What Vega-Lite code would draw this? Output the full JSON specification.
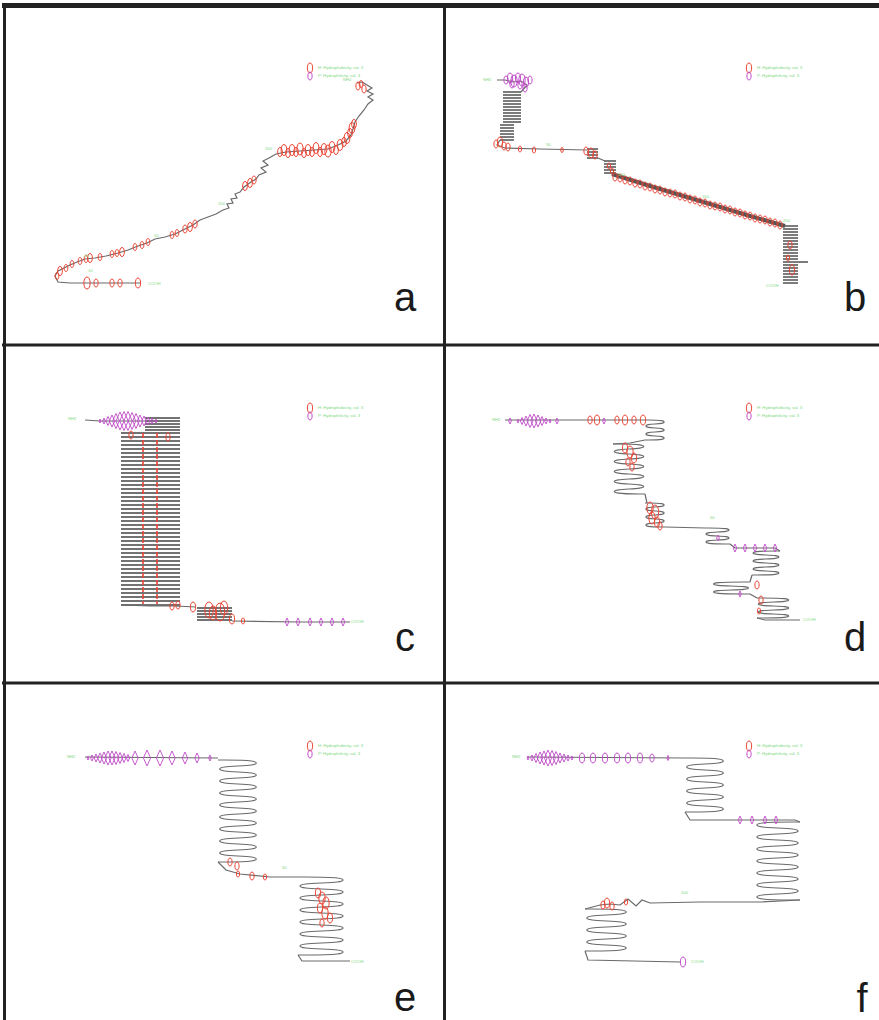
{
"$schema": "https://vega.github.io/schema/vega-lite/v6.json",
"padding": {"left": 2, "top": 3, "right": 0, "bottom": 0},
"background": "white",
"config": {"view": {"stroke": null}, "concat": {"spacing": 0}},
"data": {"values": [
{"p":"a","k":"border","w":"thin","x":4.5,"x2":4.5,"y":3,"y2":345},
{"p":"a","k":"border","w":"thin","x":444.5,"x2":444.5,"y":3,"y2":345},
{"p":"a","k":"border","w":"thin","x":2,"x2":444,"y":345,"y2":345},
{"p":"a","k":"border","w":"thick","x":2,"x2":444,"y":5.5,"y2":5.5},
{"p":"b","k":"border","w":"thin","x":444.5,"x2":444.5,"y":3,"y2":345},
{"p":"b","k":"border","w":"thin","x":444,"x2":879,"y":345,"y2":345},
{"p":"b","k":"border","w":"thick","x":444,"x2":879,"y":5.5,"y2":5.5},
{"p":"c","k":"border","w":"thin","x":4.5,"x2":4.5,"y":345,"y2":683},
{"p":"c","k":"border","w":"thin","x":444.5,"x2":444.5,"y":345,"y2":683},
{"p":"c","k":"border","w":"thin","x":2,"x2":444,"y":345,"y2":345},
{"p":"c","k":"border","w":"thin","x":2,"x2":444,"y":683,"y2":683},
{"p":"d","k":"border","w":"thin","x":444.5,"x2":444.5,"y":345,"y2":683},
{"p":"d","k":"border","w":"thin","x":444,"x2":879,"y":345,"y2":345},
{"p":"d","k":"border","w":"thin","x":444,"x2":879,"y":683,"y2":683},
{"p":"e","k":"border","w":"thin","x":4.5,"x2":4.5,"y":683,"y2":1020},
{"p":"e","k":"border","w":"thin","x":444.5,"x2":444.5,"y":683,"y2":1020},
{"p":"e","k":"border","w":"thin","x":2,"x2":444,"y":683,"y2":683},
{"p":"f","k":"border","w":"thin","x":444.5,"x2":444.5,"y":683,"y2":1020},
{"p":"f","k":"border","w":"thin","x":444,"x2":879,"y":683,"y2":683},
{"p":"a","k":"letter","t":"a","x":405,"y":311},
{"p":"b","k":"letter","t":"b","x":855,"y":311},
{"p":"c","k":"letter","t":"c","x":405,"y":651},
{"p":"d","k":"letter","t":"d","x":855,"y":651},
{"p":"e","k":"letter","t":"e","x":405,"y":1011},
{"p":"f","k":"letter","t":"f","x":862,"y":1012},

{"p":"a","k":"lab","t":"H: Hydrophobicity, val. 3","x":318,"y":68},
{"p":"a","k":"lab","t":"P: Hydrophilicity, val. 3","x":318,"y":76},
{"p":"a","k":"red","x":310,"y":68,"v":10},
{"p":"a","k":"pe","x":310,"y":76,"v":8},
{"p":"a","k":"lab","t":"NH2","x":343,"y":80},
{"p":"a","k":"lab","t":"COOH","x":148,"y":284},
{"p":"a","k":"lab","t":"150","x":265,"y":149},
{"p":"a","k":"lab","t":"100","x":218,"y":204},
{"p":"a","k":"lab","t":"50","x":154,"y":236},
{"p":"a","k":"lab","t":"20","x":84,"y":256},
{"p":"a","k":"lab","t":"10","x":88,"y":271},
{"p":"a","k":"path","s":1,"x":357,"y":83},{"p":"a","k":"path","s":1,"x":362,"y":82},{"p":"a","k":"path","s":1,"x":367,"y":85},{"p":"a","k":"path","s":1,"x":372,"y":88},{"p":"a","k":"path","s":1,"x":367,"y":91},{"p":"a","k":"path","s":1,"x":373,"y":94},{"p":"a","k":"path","s":1,"x":368,"y":97},{"p":"a","k":"path","s":1,"x":373,"y":100},{"p":"a","k":"path","s":1,"x":368,"y":104},{"p":"a","k":"path","s":1,"x":364,"y":110},{"p":"a","k":"path","s":1,"x":359,"y":116},{"p":"a","k":"path","s":1,"x":355,"y":122},{"p":"a","k":"path","s":1,"x":353,"y":129},{"p":"a","k":"path","s":1,"x":351,"y":135},{"p":"a","k":"path","s":1,"x":346,"y":141},{"p":"a","k":"path","s":1,"x":338,"y":145},{"p":"a","k":"path","s":1,"x":328,"y":149},{"p":"a","k":"path","s":1,"x":314,"y":150},{"p":"a","k":"path","s":1,"x":300,"y":151},{"p":"a","k":"path","s":1,"x":286,"y":152},{"p":"a","k":"path","s":1,"x":276,"y":154},{"p":"a","k":"path","s":1,"x":269,"y":158},{"p":"a","k":"path","s":1,"x":263,"y":161},{"p":"a","k":"path","s":1,"x":268,"y":165},{"p":"a","k":"path","s":1,"x":261,"y":168},{"p":"a","k":"path","s":1,"x":266,"y":172},{"p":"a","k":"path","s":1,"x":259,"y":175},{"p":"a","k":"path","s":1,"x":256,"y":179},{"p":"a","k":"path","s":1,"x":251,"y":182},{"p":"a","k":"path","s":1,"x":244,"y":187},{"p":"a","k":"path","s":1,"x":240,"y":192},{"p":"a","k":"path","s":1,"x":235,"y":194},{"p":"a","k":"path","s":1,"x":237,"y":198},{"p":"a","k":"path","s":1,"x":231,"y":199},{"p":"a","k":"path","s":1,"x":233,"y":203},{"p":"a","k":"path","s":1,"x":227,"y":204},{"p":"a","k":"path","s":1,"x":229,"y":208},{"p":"a","k":"path","s":1,"x":223,"y":210},{"p":"a","k":"path","s":1,"x":216,"y":214},{"p":"a","k":"path","s":1,"x":208,"y":217},{"p":"a","k":"path","s":1,"x":200,"y":220},{"p":"a","k":"path","s":1,"x":193,"y":225},{"p":"a","k":"path","s":1,"x":185,"y":229},{"p":"a","k":"path","s":1,"x":175,"y":234},{"p":"a","k":"path","s":1,"x":165,"y":237},{"p":"a","k":"path","s":1,"x":155,"y":239},{"p":"a","k":"path","s":1,"x":147,"y":243},{"p":"a","k":"path","s":1,"x":138,"y":246},{"p":"a","k":"path","s":1,"x":128,"y":250},{"p":"a","k":"path","s":1,"x":118,"y":253},{"p":"a","k":"path","s":1,"x":106,"y":256},{"p":"a","k":"path","s":1,"x":95,"y":258},{"p":"a","k":"path","s":1,"x":85,"y":259},{"p":"a","k":"path","s":1,"x":77,"y":262},{"p":"a","k":"path","s":1,"x":70,"y":265},{"p":"a","k":"path","s":1,"x":64,"y":268},{"p":"a","k":"path","s":1,"x":58,"y":271},{"p":"a","k":"path","s":1,"x":55,"y":276},{"p":"a","k":"path","s":1,"x":58,"y":282},{"p":"a","k":"path","s":1,"x":70,"y":283},{"p":"a","k":"path","s":1,"x":100,"y":283},{"p":"a","k":"path","s":1,"x":141,"y":283},
{"p":"a","k":"red","x":358,"y":86,"v":8},{"p":"a","k":"red","x":361,"y":84,"v":7},{"p":"a","k":"red","x":364,"y":89,"v":8},
{"p":"a","k":"red","x":280,"y":152,"v":9},{"p":"a","k":"red","x":284,"y":150,"v":11},{"p":"a","k":"red","x":288,"y":153,"v":9},{"p":"a","k":"red","x":292,"y":150,"v":11},{"p":"a","k":"red","x":296,"y":152,"v":9},{"p":"a","k":"red","x":300,"y":149,"v":12},{"p":"a","k":"red","x":304,"y":153,"v":9},{"p":"a","k":"red","x":308,"y":150,"v":11},{"p":"a","k":"red","x":312,"y":152,"v":9},{"p":"a","k":"red","x":316,"y":148,"v":11},{"p":"a","k":"red","x":320,"y":152,"v":9},{"p":"a","k":"red","x":324,"y":149,"v":11},{"p":"a","k":"red","x":328,"y":151,"v":12},{"p":"a","k":"red","x":332,"y":147,"v":11},{"p":"a","k":"red","x":336,"y":150,"v":9},{"p":"a","k":"red","x":340,"y":145,"v":11},{"p":"a","k":"red","x":344,"y":142,"v":9},{"p":"a","k":"red","x":347,"y":138,"v":11},{"p":"a","k":"red","x":350,"y":133,"v":9},{"p":"a","k":"red","x":352,"y":128,"v":11},{"p":"a","k":"red","x":354,"y":124,"v":9},
{"p":"a","k":"red","x":254,"y":180,"v":8},{"p":"a","k":"red","x":250,"y":183,"v":9},{"p":"a","k":"red","x":245,"y":186,"v":9},
{"p":"a","k":"red","x":195,"y":224,"v":8},{"p":"a","k":"red","x":190,"y":227,"v":9},{"p":"a","k":"red","x":185,"y":229,"v":8},{"p":"a","k":"red","x":177,"y":233,"v":7},{"p":"a","k":"red","x":172,"y":235,"v":7},
{"p":"a","k":"red","x":148,"y":242,"v":7},{"p":"a","k":"red","x":142,"y":245,"v":7},{"p":"a","k":"red","x":135,"y":247,"v":7},
{"p":"a","k":"red","x":122,"y":252,"v":9},{"p":"a","k":"red","x":117,"y":253,"v":7},{"p":"a","k":"red","x":112,"y":254,"v":7},{"p":"a","k":"red","x":100,"y":257,"v":7},
{"p":"a","k":"red","x":90,"y":258,"v":9},{"p":"a","k":"red","x":86,"y":259,"v":7},{"p":"a","k":"red","x":80,"y":261,"v":7},
{"p":"a","k":"red","x":72,"y":264,"v":7},{"p":"a","k":"red","x":66,"y":268,"v":7},{"p":"a","k":"red","x":60,"y":271,"v":9},{"p":"a","k":"red","x":57,"y":276,"v":7},
{"p":"a","k":"red","x":87,"y":283,"v":12},{"p":"a","k":"red","x":96,"y":283,"v":8},{"p":"a","k":"red","x":112,"y":283,"v":8},{"p":"a","k":"red","x":120,"y":283,"v":8},{"p":"a","k":"red","x":138,"y":283,"v":10},

{"p":"b","k":"lab","t":"H: Hydrophobicity, val. 3","x":757,"y":68},
{"p":"b","k":"lab","t":"P: Hydrophilicity, val. 3","x":757,"y":76},
{"p":"b","k":"red","x":749,"y":68,"v":10},
{"p":"b","k":"pe","x":749,"y":76,"v":8},
{"p":"b","k":"lab","t":"NH2","x":483,"y":80},
{"p":"b","k":"lab","t":"COOH","x":766,"y":286},
{"p":"b","k":"lab","t":"50","x":546,"y":145},
{"p":"b","k":"lab","t":"100","x":618,"y":175},
{"p":"b","k":"lab","t":"150","x":702,"y":197},
{"p":"b","k":"lab","t":"200","x":783,"y":221},
{"p":"b","k":"path","s":1,"x":497,"y":80},{"p":"b","k":"path","s":1,"x":505,"y":80},{"p":"b","k":"path","s":1,"x":513,"y":82},{"p":"b","k":"path","s":1,"x":521,"y":81},{"p":"b","k":"path","s":1,"x":527,"y":85},{"p":"b","k":"path","s":1,"x":521,"y":92},
{"p":"b","k":"path","s":2,"x":500,"y":140},{"p":"b","k":"path","s":2,"x":497,"y":145},{"p":"b","k":"path","s":2,"x":505,"y":148},{"p":"b","k":"path","s":2,"x":540,"y":149},{"p":"b","k":"path","s":2,"x":587,"y":150},
{"p":"b","k":"path","s":3,"x":598,"y":158},{"p":"b","k":"path","s":3,"x":605,"y":161},
{"p":"b","k":"band","s":4,"x":612,"y":174},{"p":"b","k":"band","s":4,"x":650,"y":186},{"p":"b","k":"band","s":4,"x":700,"y":201},{"p":"b","k":"band","s":4,"x":750,"y":216},{"p":"b","k":"band","s":4,"x":785,"y":226},
{"p":"b","k":"stripe","x":503,"x2":521,"y":92},{"p":"b","k":"stripe","x":503,"x2":521,"y":95},{"p":"b","k":"stripe","x":503,"x2":521,"y":98},{"p":"b","k":"stripe","x":503,"x2":521,"y":101},{"p":"b","k":"stripe","x":503,"x2":521,"y":104},{"p":"b","k":"stripe","x":503,"x2":521,"y":107},{"p":"b","k":"stripe","x":503,"x2":521,"y":110},{"p":"b","k":"stripe","x":503,"x2":521,"y":113},{"p":"b","k":"stripe","x":503,"x2":521,"y":116},{"p":"b","k":"stripe","x":503,"x2":521,"y":119},{"p":"b","k":"stripe","x":503,"x2":521,"y":122},
{"p":"b","k":"stripe","x":500,"x2":514,"y":125},{"p":"b","k":"stripe","x":500,"x2":514,"y":128},{"p":"b","k":"stripe","x":500,"x2":514,"y":131},{"p":"b","k":"stripe","x":500,"x2":514,"y":134},{"p":"b","k":"stripe","x":500,"x2":514,"y":137},{"p":"b","k":"stripe","x":500,"x2":514,"y":140},
{"p":"b","k":"stripe","x":587,"x2":598,"y":149},{"p":"b","k":"stripe","x":587,"x2":598,"y":152},{"p":"b","k":"stripe","x":587,"x2":598,"y":155},{"p":"b","k":"stripe","x":587,"x2":598,"y":158},
{"p":"b","k":"stripe","x":604,"x2":616,"y":161},{"p":"b","k":"stripe","x":604,"x2":616,"y":164},{"p":"b","k":"stripe","x":604,"x2":616,"y":167},{"p":"b","k":"stripe","x":604,"x2":616,"y":170},{"p":"b","k":"stripe","x":604,"x2":616,"y":173},
{"p":"b","k":"stripe","x":783,"x2":798,"y":226},{"p":"b","k":"stripe","x":783,"x2":798,"y":229},{"p":"b","k":"stripe","x":783,"x2":798,"y":232},{"p":"b","k":"stripe","x":783,"x2":798,"y":235},{"p":"b","k":"stripe","x":783,"x2":798,"y":238},{"p":"b","k":"stripe","x":783,"x2":798,"y":241},{"p":"b","k":"stripe","x":783,"x2":798,"y":244},{"p":"b","k":"stripe","x":783,"x2":798,"y":247},{"p":"b","k":"stripe","x":783,"x2":798,"y":250},{"p":"b","k":"stripe","x":783,"x2":798,"y":253},{"p":"b","k":"stripe","x":783,"x2":798,"y":256},{"p":"b","k":"stripe","x":783,"x2":798,"y":259},{"p":"b","k":"stripe","x":783,"x2":808,"y":262},{"p":"b","k":"stripe","x":783,"x2":798,"y":265},{"p":"b","k":"stripe","x":783,"x2":798,"y":268},{"p":"b","k":"stripe","x":783,"x2":798,"y":271},{"p":"b","k":"stripe","x":783,"x2":798,"y":274},{"p":"b","k":"stripe","x":783,"x2":798,"y":277},{"p":"b","k":"stripe","x":783,"x2":798,"y":280},{"p":"b","k":"stripe","x":783,"x2":798,"y":283},
{"p":"b","k":"pe","x":506,"y":80,"v":8},{"p":"b","k":"pe","x":510,"y":78,"v":10},{"p":"b","k":"pe","x":514,"y":81,"v":12},{"p":"b","k":"pe","x":518,"y":78,"v":10},{"p":"b","k":"pe","x":522,"y":80,"v":12},{"p":"b","k":"pe","x":526,"y":82,"v":10},{"p":"b","k":"pe","x":512,"y":84,"v":8},{"p":"b","k":"pe","x":520,"y":85,"v":8},{"p":"b","k":"pe","x":525,"y":88,"v":8},{"p":"b","k":"pe","x":530,"y":80,"v":8},
{"p":"b","k":"red","x":496,"y":144,"v":8},{"p":"b","k":"red","x":500,"y":142,"v":10},{"p":"b","k":"red","x":504,"y":146,"v":8},{"p":"b","k":"red","x":508,"y":147,"v":8},{"p":"b","k":"red","x":520,"y":149,"v":6},{"p":"b","k":"red","x":534,"y":150,"v":6},{"p":"b","k":"red","x":562,"y":150,"v":5},{"p":"b","k":"red","x":586,"y":151,"v":8},{"p":"b","k":"red","x":591,"y":153,"v":10},{"p":"b","k":"red","x":595,"y":155,"v":8},{"p":"b","k":"red","x":609,"y":166,"v":6},{"p":"b","k":"red","x":612,"y":171,"v":6},
{"p":"b","k":"red","x":615,"y":177,"v":8},{"p":"b","k":"red","x":620,"y":178,"v":8},{"p":"b","k":"red","x":625,"y":180,"v":8},{"p":"b","k":"red","x":630,"y":181,"v":8},{"p":"b","k":"red","x":635,"y":183,"v":8},{"p":"b","k":"red","x":640,"y":184,"v":8},{"p":"b","k":"red","x":645,"y":186,"v":8},{"p":"b","k":"red","x":650,"y":187,"v":8},{"p":"b","k":"red","x":655,"y":189,"v":8},{"p":"b","k":"red","x":660,"y":190,"v":8},{"p":"b","k":"red","x":665,"y":192,"v":8},{"p":"b","k":"red","x":670,"y":193,"v":8},{"p":"b","k":"red","x":675,"y":194,"v":8},{"p":"b","k":"red","x":680,"y":196,"v":8},{"p":"b","k":"red","x":685,"y":197,"v":8},{"p":"b","k":"red","x":690,"y":199,"v":8},{"p":"b","k":"red","x":695,"y":200,"v":8},{"p":"b","k":"red","x":700,"y":202,"v":8},{"p":"b","k":"red","x":705,"y":203,"v":8},{"p":"b","k":"red","x":710,"y":205,"v":8},{"p":"b","k":"red","x":715,"y":206,"v":8},{"p":"b","k":"red","x":720,"y":207,"v":8},{"p":"b","k":"red","x":725,"y":209,"v":8},{"p":"b","k":"red","x":730,"y":210,"v":8},{"p":"b","k":"red","x":735,"y":212,"v":8},{"p":"b","k":"red","x":740,"y":213,"v":8},{"p":"b","k":"red","x":745,"y":215,"v":8},{"p":"b","k":"red","x":750,"y":216,"v":8},{"p":"b","k":"red","x":755,"y":218,"v":8},{"p":"b","k":"red","x":760,"y":219,"v":8},{"p":"b","k":"red","x":765,"y":220,"v":8},{"p":"b","k":"red","x":770,"y":222,"v":8},{"p":"b","k":"red","x":775,"y":223,"v":8},{"p":"b","k":"red","x":780,"y":225,"v":8},
{"p":"b","k":"red","x":790,"y":245,"v":8},{"p":"b","k":"red","x":788,"y":258,"v":6},{"p":"b","k":"red","x":792,"y":270,"v":10},

{"p":"c","k":"lab","t":"H: Hydrophobicity, val. 3","x":318,"y":408},
{"p":"c","k":"lab","t":"P: Hydrophilicity, val. 3","x":318,"y":416},
{"p":"c","k":"red","x":310,"y":408,"v":10},
{"p":"c","k":"pe","x":310,"y":416,"v":8},
{"p":"c","k":"lab","t":"NH2","x":68,"y":419},
{"p":"c","k":"lab","t":"COOH","x":351,"y":622},
{"p":"c","k":"path","s":1,"x":85,"y":420},{"p":"c","k":"path","s":1,"x":100,"y":421},{"p":"c","k":"path","s":1,"x":145,"y":421},
{"p":"c","k":"path","s":2,"x":121,"y":605},{"p":"c","k":"path","s":2,"x":150,"y":606},{"p":"c","k":"path","s":2,"x":175,"y":606},{"p":"c","k":"path","s":2,"x":196,"y":607},
{"p":"c","k":"path","s":3,"x":232,"y":621},{"p":"c","k":"path","s":3,"x":300,"y":622},{"p":"c","k":"path","s":3,"x":350,"y":622},
{"p":"c","k":"stripe","x":145,"x2":180,"y":418},{"p":"c","k":"stripe","x":145,"x2":180,"y":421},{"p":"c","k":"stripe","x":145,"x2":180,"y":424},{"p":"c","k":"stripe","x":145,"x2":180,"y":427},{"p":"c","k":"stripe","x":145,"x2":180,"y":430},
{"p":"c","k":"stripe","x":121,"x2":180,"y":433},{"p":"c","k":"stripe","x":121,"x2":180,"y":437},{"p":"c","k":"stripe","x":121,"x2":180,"y":441},{"p":"c","k":"stripe","x":121,"x2":180,"y":445},{"p":"c","k":"stripe","x":121,"x2":180,"y":449},{"p":"c","k":"stripe","x":121,"x2":180,"y":453},{"p":"c","k":"stripe","x":121,"x2":180,"y":457},{"p":"c","k":"stripe","x":121,"x2":180,"y":461},{"p":"c","k":"stripe","x":121,"x2":180,"y":465},{"p":"c","k":"stripe","x":121,"x2":180,"y":469},{"p":"c","k":"stripe","x":121,"x2":180,"y":473},{"p":"c","k":"stripe","x":121,"x2":180,"y":477},{"p":"c","k":"stripe","x":121,"x2":180,"y":481},{"p":"c","k":"stripe","x":121,"x2":180,"y":485},{"p":"c","k":"stripe","x":121,"x2":180,"y":489},{"p":"c","k":"stripe","x":121,"x2":180,"y":493},{"p":"c","k":"stripe","x":121,"x2":180,"y":497},{"p":"c","k":"stripe","x":121,"x2":180,"y":501},{"p":"c","k":"stripe","x":121,"x2":180,"y":505},{"p":"c","k":"stripe","x":121,"x2":180,"y":509},{"p":"c","k":"stripe","x":121,"x2":180,"y":513},{"p":"c","k":"stripe","x":121,"x2":180,"y":517},{"p":"c","k":"stripe","x":121,"x2":180,"y":521},{"p":"c","k":"stripe","x":121,"x2":180,"y":525},{"p":"c","k":"stripe","x":121,"x2":180,"y":529},{"p":"c","k":"stripe","x":121,"x2":180,"y":533},{"p":"c","k":"stripe","x":121,"x2":180,"y":537},{"p":"c","k":"stripe","x":121,"x2":180,"y":541},{"p":"c","k":"stripe","x":121,"x2":180,"y":545},{"p":"c","k":"stripe","x":121,"x2":180,"y":549},{"p":"c","k":"stripe","x":121,"x2":180,"y":553},{"p":"c","k":"stripe","x":121,"x2":180,"y":557},{"p":"c","k":"stripe","x":121,"x2":180,"y":561},{"p":"c","k":"stripe","x":121,"x2":180,"y":565},{"p":"c","k":"stripe","x":121,"x2":180,"y":569},{"p":"c","k":"stripe","x":121,"x2":180,"y":573},{"p":"c","k":"stripe","x":121,"x2":180,"y":577},{"p":"c","k":"stripe","x":121,"x2":180,"y":581},{"p":"c","k":"stripe","x":121,"x2":180,"y":585},{"p":"c","k":"stripe","x":121,"x2":180,"y":589},{"p":"c","k":"stripe","x":121,"x2":180,"y":593},{"p":"c","k":"stripe","x":121,"x2":180,"y":597},{"p":"c","k":"stripe","x":121,"x2":180,"y":601},{"p":"c","k":"stripe","x":121,"x2":180,"y":605},
{"p":"c","k":"stripe","x":197,"x2":232,"y":608},{"p":"c","k":"stripe","x":197,"x2":232,"y":611},{"p":"c","k":"stripe","x":197,"x2":232,"y":614},{"p":"c","k":"stripe","x":197,"x2":232,"y":617},{"p":"c","k":"stripe","x":197,"x2":232,"y":620},
{"p":"c","k":"redline","x":143,"y":433,"y2":604},{"p":"c","k":"redline","x":157,"y":433,"y2":604},
{"p":"c","k":"red","x":131,"y":435,"v":8},{"p":"c","k":"red","x":168,"y":437,"v":8},{"p":"c","k":"red","x":172,"y":606,"v":8},{"p":"c","k":"red","x":178,"y":605,"v":8},{"p":"c","k":"red","x":193,"y":607,"v":10},{"p":"c","k":"red","x":209,"y":610,"v":16},{"p":"c","k":"red","x":213,"y":613,"v":14},{"p":"c","k":"red","x":220,"y":612,"v":18},{"p":"c","k":"red","x":224,"y":608,"v":14},{"p":"c","k":"red","x":232,"y":619,"v":10},{"p":"c","k":"red","x":243,"y":621,"v":6},
{"p":"c","k":"pd","x":100,"y":421,"v":4},{"p":"c","k":"pd","x":104,"y":421,"v":6},{"p":"c","k":"pd","x":108,"y":421,"v":9},{"p":"c","k":"pd","x":112,"y":421,"v":12},{"p":"c","k":"pd","x":116,"y":421,"v":15},{"p":"c","k":"pd","x":120,"y":421,"v":18},{"p":"c","k":"pd","x":124,"y":421,"v":19},{"p":"c","k":"pd","x":128,"y":421,"v":19},{"p":"c","k":"pd","x":132,"y":421,"v":17},{"p":"c","k":"pd","x":136,"y":421,"v":15},{"p":"c","k":"pd","x":140,"y":421,"v":12},{"p":"c","k":"pd","x":144,"y":421,"v":10},{"p":"c","k":"pd","x":148,"y":421,"v":8},{"p":"c","k":"pd","x":152,"y":421,"v":6},{"p":"c","k":"pd","x":156,"y":421,"v":4},
{"p":"c","k":"pd","x":287,"y":622,"v":8},{"p":"c","k":"pd","x":298,"y":622,"v":8},{"p":"c","k":"pd","x":310,"y":622,"v":8},{"p":"c","k":"pd","x":321,"y":622,"v":8},{"p":"c","k":"pd","x":332,"y":622,"v":8},{"p":"c","k":"pd","x":343,"y":622,"v":8},

{"p":"d","k":"lab","t":"H: Hydrophobicity, val. 3","x":757,"y":408},
{"p":"d","k":"lab","t":"P: Hydrophilicity, val. 3","x":757,"y":416},
{"p":"d","k":"red","x":749,"y":408,"v":10},
{"p":"d","k":"pe","x":749,"y":416,"v":8},
{"p":"d","k":"lab","t":"NH2","x":492,"y":420},
{"p":"d","k":"lab","t":"COOH","x":803,"y":620},
{"p":"d","k":"lab","t":"50","x":710,"y":518},
{"p":"d","k":"path","s":1,"x":505,"y":420},{"p":"d","k":"path","s":1,"x":560,"y":420},{"p":"d","k":"path","s":1,"x":600,"y":420},{"p":"d","k":"path","s":1,"x":645,"y":420},
{"p":"d","k":"loop","s":11,"x":645,"y":420},{"p":"d","k":"loop","s":11,"x":665,"y":420},{"p":"d","k":"loop","s":11,"x":665,"y":424},{"p":"d","k":"loop","s":11,"x":645,"y":424},{"p":"d","k":"loop","s":11,"x":645,"y":428},{"p":"d","k":"loop","s":11,"x":665,"y":428},{"p":"d","k":"loop","s":11,"x":665,"y":432},{"p":"d","k":"loop","s":11,"x":645,"y":432},{"p":"d","k":"loop","s":11,"x":645,"y":436},{"p":"d","k":"loop","s":11,"x":665,"y":436},{"p":"d","k":"loop","s":11,"x":665,"y":440},{"p":"d","k":"loop","s":11,"x":645,"y":440},
{"p":"d","k":"path","s":2,"x":645,"y":440},{"p":"d","k":"path","s":2,"x":630,"y":443},{"p":"d","k":"path","s":2,"x":613,"y":444},
{"p":"d","k":"loop","s":12,"x":613,"y":444},{"p":"d","k":"loop","s":12,"x":645,"y":444},{"p":"d","k":"loop","s":12,"x":645,"y":449},{"p":"d","k":"loop","s":12,"x":613,"y":449},{"p":"d","k":"loop","s":12,"x":613,"y":454},{"p":"d","k":"loop","s":12,"x":645,"y":454},{"p":"d","k":"loop","s":12,"x":645,"y":459},{"p":"d","k":"loop","s":12,"x":613,"y":459},{"p":"d","k":"loop","s":12,"x":613,"y":464},{"p":"d","k":"loop","s":12,"x":645,"y":464},{"p":"d","k":"loop","s":12,"x":645,"y":469},{"p":"d","k":"loop","s":12,"x":613,"y":469},{"p":"d","k":"loop","s":12,"x":613,"y":474},{"p":"d","k":"loop","s":12,"x":645,"y":474},{"p":"d","k":"loop","s":12,"x":645,"y":479},{"p":"d","k":"loop","s":12,"x":613,"y":479},{"p":"d","k":"loop","s":12,"x":613,"y":484},{"p":"d","k":"loop","s":12,"x":645,"y":484},{"p":"d","k":"loop","s":12,"x":645,"y":489},{"p":"d","k":"loop","s":12,"x":613,"y":489},{"p":"d","k":"loop","s":12,"x":613,"y":494},{"p":"d","k":"loop","s":12,"x":645,"y":494},
{"p":"d","k":"path","s":3,"x":645,"y":494},{"p":"d","k":"path","s":3,"x":647,"y":503},
{"p":"d","k":"loop","s":13,"x":645,"y":503},{"p":"d","k":"loop","s":13,"x":665,"y":503},{"p":"d","k":"loop","s":13,"x":665,"y":507},{"p":"d","k":"loop","s":13,"x":645,"y":507},{"p":"d","k":"loop","s":13,"x":645,"y":511},{"p":"d","k":"loop","s":13,"x":665,"y":511},{"p":"d","k":"loop","s":13,"x":665,"y":515},{"p":"d","k":"loop","s":13,"x":645,"y":515},{"p":"d","k":"loop","s":13,"x":645,"y":519},{"p":"d","k":"loop","s":13,"x":665,"y":519},{"p":"d","k":"loop","s":13,"x":665,"y":523},{"p":"d","k":"loop","s":13,"x":645,"y":523},{"p":"d","k":"loop","s":13,"x":645,"y":527},{"p":"d","k":"loop","s":13,"x":665,"y":527},
{"p":"d","k":"path","s":4,"x":665,"y":527},{"p":"d","k":"path","s":4,"x":705,"y":528},
{"p":"d","k":"loop","s":14,"x":705,"y":528},{"p":"d","k":"loop","s":14,"x":730,"y":528},{"p":"d","k":"loop","s":14,"x":730,"y":532},{"p":"d","k":"loop","s":14,"x":705,"y":532},{"p":"d","k":"loop","s":14,"x":705,"y":536},{"p":"d","k":"loop","s":14,"x":730,"y":536},{"p":"d","k":"loop","s":14,"x":730,"y":540},{"p":"d","k":"loop","s":14,"x":705,"y":540},{"p":"d","k":"loop","s":14,"x":705,"y":544},{"p":"d","k":"loop","s":14,"x":730,"y":544},
{"p":"d","k":"path","s":5,"x":730,"y":544},{"p":"d","k":"path","s":5,"x":735,"y":548},{"p":"d","k":"path","s":5,"x":775,"y":548},{"p":"d","k":"path","s":5,"x":780,"y":551},
{"p":"d","k":"loop","s":15,"x":780,"y":551},{"p":"d","k":"loop","s":15,"x":752,"y":551},{"p":"d","k":"loop","s":15,"x":752,"y":555},{"p":"d","k":"loop","s":15,"x":780,"y":555},{"p":"d","k":"loop","s":15,"x":780,"y":559},{"p":"d","k":"loop","s":15,"x":752,"y":559},{"p":"d","k":"loop","s":15,"x":752,"y":563},{"p":"d","k":"loop","s":15,"x":780,"y":563},{"p":"d","k":"loop","s":15,"x":780,"y":567},{"p":"d","k":"loop","s":15,"x":752,"y":567},{"p":"d","k":"loop","s":15,"x":752,"y":571},{"p":"d","k":"loop","s":15,"x":780,"y":571},{"p":"d","k":"loop","s":15,"x":780,"y":575},{"p":"d","k":"loop","s":15,"x":752,"y":575},
{"p":"d","k":"path","s":6,"x":752,"y":575},{"p":"d","k":"path","s":6,"x":750,"y":582},
{"p":"d","k":"loop","s":16,"x":750,"y":582},{"p":"d","k":"loop","s":16,"x":712,"y":582},{"p":"d","k":"loop","s":16,"x":712,"y":586},{"p":"d","k":"loop","s":16,"x":750,"y":586},{"p":"d","k":"loop","s":16,"x":750,"y":590},{"p":"d","k":"loop","s":16,"x":712,"y":590},{"p":"d","k":"loop","s":16,"x":712,"y":594},{"p":"d","k":"loop","s":16,"x":750,"y":594},
{"p":"d","k":"path","s":7,"x":750,"y":594},{"p":"d","k":"path","s":7,"x":757,"y":598},
{"p":"d","k":"loop","s":17,"x":757,"y":598},{"p":"d","k":"loop","s":17,"x":790,"y":598},{"p":"d","k":"loop","s":17,"x":790,"y":602},{"p":"d","k":"loop","s":17,"x":757,"y":602},{"p":"d","k":"loop","s":17,"x":757,"y":606},{"p":"d","k":"loop","s":17,"x":790,"y":606},{"p":"d","k":"loop","s":17,"x":790,"y":610},{"p":"d","k":"loop","s":17,"x":757,"y":610},{"p":"d","k":"loop","s":17,"x":757,"y":614},{"p":"d","k":"loop","s":17,"x":790,"y":614},{"p":"d","k":"loop","s":17,"x":790,"y":618},{"p":"d","k":"loop","s":17,"x":757,"y":618},
{"p":"d","k":"path","s":8,"x":757,"y":618},{"p":"d","k":"path","s":8,"x":765,"y":620},{"p":"d","k":"path","s":8,"x":800,"y":620},
{"p":"d","k":"red","x":590,"y":420,"v":8},{"p":"d","k":"red","x":597,"y":420,"v":10},{"p":"d","k":"red","x":617,"y":420,"v":8},{"p":"d","k":"red","x":625,"y":420,"v":10},{"p":"d","k":"red","x":634,"y":420,"v":8},{"p":"d","k":"red","x":643,"y":420,"v":10},{"p":"d","k":"red","x":625,"y":448,"v":10},{"p":"d","k":"red","x":630,"y":452,"v":12},{"p":"d","k":"red","x":634,"y":458,"v":10},{"p":"d","k":"red","x":628,"y":462,"v":8},{"p":"d","k":"red","x":632,"y":467,"v":8},{"p":"d","k":"red","x":650,"y":508,"v":12},{"p":"d","k":"red","x":655,"y":512,"v":14},{"p":"d","k":"red","x":652,"y":518,"v":12},{"p":"d","k":"red","x":657,"y":522,"v":10},{"p":"d","k":"red","x":660,"y":526,"v":8},{"p":"d","k":"red","x":757,"y":585,"v":8},{"p":"d","k":"red","x":761,"y":600,"v":8},{"p":"d","k":"red","x":759,"y":611,"v":6},
{"p":"d","k":"pd","x":518,"y":421,"v":4},{"p":"d","k":"pd","x":522,"y":421,"v":7},{"p":"d","k":"pd","x":526,"y":421,"v":10},{"p":"d","k":"pd","x":530,"y":421,"v":13},{"p":"d","k":"pd","x":534,"y":421,"v":14},{"p":"d","k":"pd","x":538,"y":421,"v":12},{"p":"d","k":"pd","x":542,"y":421,"v":9},{"p":"d","k":"pd","x":546,"y":421,"v":6},{"p":"d","k":"pd","x":550,"y":421,"v":4},
{"p":"d","k":"pd","x":510,"y":421,"v":6},{"p":"d","k":"pd","x":557,"y":421,"v":6},{"p":"d","k":"pd","x":604,"y":421,"v":6},
{"p":"d","k":"pd","x":735,"y":548,"v":8},{"p":"d","k":"pd","x":745,"y":548,"v":8},{"p":"d","k":"pd","x":755,"y":548,"v":8},{"p":"d","k":"pd","x":765,"y":548,"v":8},{"p":"d","k":"pd","x":775,"y":548,"v":8},{"p":"d","k":"pd","x":740,"y":594,"v":6},{"p":"d","k":"pd","x":718,"y":538,"v":6},

{"p":"e","k":"lab","t":"H: Hydrophobicity, val. 3","x":318,"y":746},
{"p":"e","k":"lab","t":"P: Hydrophilicity, val. 3","x":318,"y":754},
{"p":"e","k":"red","x":310,"y":746,"v":10},
{"p":"e","k":"pe","x":310,"y":754,"v":8},
{"p":"e","k":"lab","t":"NH2","x":67,"y":757},
{"p":"e","k":"lab","t":"COOH","x":351,"y":962},
{"p":"e","k":"lab","t":"50","x":282,"y":868},
{"p":"e","k":"path","s":1,"x":85,"y":757},{"p":"e","k":"path","s":1,"x":218,"y":758},
{"p":"e","k":"loop","s":11,"x":218,"y":760},{"p":"e","k":"loop","s":11,"x":258,"y":760},{"p":"e","k":"loop","s":11,"x":258,"y":766},{"p":"e","k":"loop","s":11,"x":218,"y":766},{"p":"e","k":"loop","s":11,"x":218,"y":772},{"p":"e","k":"loop","s":11,"x":258,"y":772},{"p":"e","k":"loop","s":11,"x":258,"y":778},{"p":"e","k":"loop","s":11,"x":218,"y":778},{"p":"e","k":"loop","s":11,"x":218,"y":784},{"p":"e","k":"loop","s":11,"x":258,"y":784},{"p":"e","k":"loop","s":11,"x":258,"y":790},{"p":"e","k":"loop","s":11,"x":218,"y":790},{"p":"e","k":"loop","s":11,"x":218,"y":796},{"p":"e","k":"loop","s":11,"x":258,"y":796},{"p":"e","k":"loop","s":11,"x":258,"y":802},{"p":"e","k":"loop","s":11,"x":218,"y":802},{"p":"e","k":"loop","s":11,"x":218,"y":808},{"p":"e","k":"loop","s":11,"x":258,"y":808},{"p":"e","k":"loop","s":11,"x":258,"y":814},{"p":"e","k":"loop","s":11,"x":218,"y":814},{"p":"e","k":"loop","s":11,"x":218,"y":820},{"p":"e","k":"loop","s":11,"x":258,"y":820},{"p":"e","k":"loop","s":11,"x":258,"y":826},{"p":"e","k":"loop","s":11,"x":218,"y":826},{"p":"e","k":"loop","s":11,"x":218,"y":832},{"p":"e","k":"loop","s":11,"x":258,"y":832},{"p":"e","k":"loop","s":11,"x":258,"y":838},{"p":"e","k":"loop","s":11,"x":218,"y":838},{"p":"e","k":"loop","s":11,"x":218,"y":844},{"p":"e","k":"loop","s":11,"x":258,"y":844},{"p":"e","k":"loop","s":11,"x":258,"y":850},{"p":"e","k":"loop","s":11,"x":218,"y":850},{"p":"e","k":"loop","s":11,"x":218,"y":856},{"p":"e","k":"loop","s":11,"x":258,"y":856},{"p":"e","k":"loop","s":11,"x":258,"y":862},{"p":"e","k":"loop","s":11,"x":218,"y":862},
{"p":"e","k":"path","s":2,"x":218,"y":862},{"p":"e","k":"path","s":2,"x":226,"y":870},{"p":"e","k":"path","s":2,"x":240,"y":874},{"p":"e","k":"path","s":2,"x":270,"y":877},{"p":"e","k":"path","s":2,"x":298,"y":877},
{"p":"e","k":"loop","s":12,"x":298,"y":877},{"p":"e","k":"loop","s":12,"x":345,"y":877},{"p":"e","k":"loop","s":12,"x":345,"y":883},{"p":"e","k":"loop","s":12,"x":298,"y":883},{"p":"e","k":"loop","s":12,"x":298,"y":889},{"p":"e","k":"loop","s":12,"x":345,"y":889},{"p":"e","k":"loop","s":12,"x":345,"y":895},{"p":"e","k":"loop","s":12,"x":298,"y":895},{"p":"e","k":"loop","s":12,"x":298,"y":901},{"p":"e","k":"loop","s":12,"x":345,"y":901},{"p":"e","k":"loop","s":12,"x":345,"y":907},{"p":"e","k":"loop","s":12,"x":298,"y":907},{"p":"e","k":"loop","s":12,"x":298,"y":913},{"p":"e","k":"loop","s":12,"x":345,"y":913},{"p":"e","k":"loop","s":12,"x":345,"y":919},{"p":"e","k":"loop","s":12,"x":298,"y":919},{"p":"e","k":"loop","s":12,"x":298,"y":925},{"p":"e","k":"loop","s":12,"x":345,"y":925},{"p":"e","k":"loop","s":12,"x":345,"y":931},{"p":"e","k":"loop","s":12,"x":298,"y":931},{"p":"e","k":"loop","s":12,"x":298,"y":937},{"p":"e","k":"loop","s":12,"x":345,"y":937},{"p":"e","k":"loop","s":12,"x":345,"y":943},{"p":"e","k":"loop","s":12,"x":298,"y":943},{"p":"e","k":"loop","s":12,"x":298,"y":949},{"p":"e","k":"loop","s":12,"x":345,"y":949},{"p":"e","k":"loop","s":12,"x":345,"y":955},{"p":"e","k":"loop","s":12,"x":298,"y":955},
{"p":"e","k":"path","s":3,"x":298,"y":955},{"p":"e","k":"path","s":3,"x":302,"y":961},{"p":"e","k":"path","s":3,"x":350,"y":961},
{"p":"e","k":"red","x":230,"y":862,"v":8},{"p":"e","k":"red","x":237,"y":866,"v":8},{"p":"e","k":"red","x":238,"y":874,"v":6},{"p":"e","k":"red","x":252,"y":876,"v":8},{"p":"e","k":"red","x":265,"y":877,"v":6},{"p":"e","k":"red","x":318,"y":893,"v":10},{"p":"e","k":"red","x":322,"y":898,"v":12},{"p":"e","k":"red","x":326,"y":903,"v":12},{"p":"e","k":"red","x":320,"y":908,"v":10},{"p":"e","k":"red","x":325,"y":913,"v":12},{"p":"e","k":"red","x":330,"y":918,"v":10},{"p":"e","k":"red","x":322,"y":923,"v":8},
{"p":"e","k":"pd","x":88,"y":758,"v":4},{"p":"e","k":"pd","x":92,"y":758,"v":6},{"p":"e","k":"pd","x":96,"y":758,"v":8},{"p":"e","k":"pd","x":100,"y":758,"v":10},{"p":"e","k":"pd","x":104,"y":758,"v":12},{"p":"e","k":"pd","x":108,"y":758,"v":14},{"p":"e","k":"pd","x":112,"y":758,"v":14},{"p":"e","k":"pd","x":116,"y":758,"v":13},{"p":"e","k":"pd","x":120,"y":758,"v":11},{"p":"e","k":"pd","x":124,"y":758,"v":9},{"p":"e","k":"pd","x":128,"y":758,"v":7},
{"p":"e","k":"pd","x":135,"y":758,"v":14},{"p":"e","k":"pd","x":147,"y":758,"v":16},{"p":"e","k":"pd","x":160,"y":758,"v":16},{"p":"e","k":"pd","x":172,"y":758,"v":14},{"p":"e","k":"pd","x":185,"y":758,"v":12},{"p":"e","k":"pd","x":197,"y":758,"v":10},{"p":"e","k":"pd","x":210,"y":758,"v":6},

{"p":"f","k":"lab","t":"H: Hydrophobicity, val. 3","x":757,"y":746},
{"p":"f","k":"lab","t":"P: Hydrophilicity, val. 3","x":757,"y":754},
{"p":"f","k":"red","x":749,"y":746,"v":10},
{"p":"f","k":"pe","x":749,"y":754,"v":8},
{"p":"f","k":"lab","t":"NH2","x":512,"y":757},
{"p":"f","k":"lab","t":"COOH","x":691,"y":962},
{"p":"f","k":"lab","t":"100","x":681,"y":893},
{"p":"f","k":"path","s":1,"x":527,"y":757},{"p":"f","k":"path","s":1,"x":685,"y":758},
{"p":"f","k":"loop","s":11,"x":685,"y":758},{"p":"f","k":"loop","s":11,"x":725,"y":758},{"p":"f","k":"loop","s":11,"x":725,"y":764},{"p":"f","k":"loop","s":11,"x":685,"y":764},{"p":"f","k":"loop","s":11,"x":685,"y":770},{"p":"f","k":"loop","s":11,"x":725,"y":770},{"p":"f","k":"loop","s":11,"x":725,"y":776},{"p":"f","k":"loop","s":11,"x":685,"y":776},{"p":"f","k":"loop","s":11,"x":685,"y":782},{"p":"f","k":"loop","s":11,"x":725,"y":782},{"p":"f","k":"loop","s":11,"x":725,"y":788},{"p":"f","k":"loop","s":11,"x":685,"y":788},{"p":"f","k":"loop","s":11,"x":685,"y":794},{"p":"f","k":"loop","s":11,"x":725,"y":794},{"p":"f","k":"loop","s":11,"x":725,"y":800},{"p":"f","k":"loop","s":11,"x":685,"y":800},{"p":"f","k":"loop","s":11,"x":685,"y":806},{"p":"f","k":"loop","s":11,"x":725,"y":806},{"p":"f","k":"loop","s":11,"x":725,"y":812},{"p":"f","k":"loop","s":11,"x":685,"y":812},
{"p":"f","k":"path","s":2,"x":685,"y":812},{"p":"f","k":"path","s":2,"x":690,"y":820},{"p":"f","k":"path","s":2,"x":795,"y":820},{"p":"f","k":"path","s":2,"x":800,"y":822},
{"p":"f","k":"loop","s":12,"x":800,"y":822},{"p":"f","k":"loop","s":12,"x":755,"y":822},{"p":"f","k":"loop","s":12,"x":755,"y":828},{"p":"f","k":"loop","s":12,"x":800,"y":828},{"p":"f","k":"loop","s":12,"x":800,"y":834},{"p":"f","k":"loop","s":12,"x":755,"y":834},{"p":"f","k":"loop","s":12,"x":755,"y":840},{"p":"f","k":"loop","s":12,"x":800,"y":840},{"p":"f","k":"loop","s":12,"x":800,"y":846},{"p":"f","k":"loop","s":12,"x":755,"y":846},{"p":"f","k":"loop","s":12,"x":755,"y":852},{"p":"f","k":"loop","s":12,"x":800,"y":852},{"p":"f","k":"loop","s":12,"x":800,"y":858},{"p":"f","k":"loop","s":12,"x":755,"y":858},{"p":"f","k":"loop","s":12,"x":755,"y":864},{"p":"f","k":"loop","s":12,"x":800,"y":864},{"p":"f","k":"loop","s":12,"x":800,"y":870},{"p":"f","k":"loop","s":12,"x":755,"y":870},{"p":"f","k":"loop","s":12,"x":755,"y":876},{"p":"f","k":"loop","s":12,"x":800,"y":876},{"p":"f","k":"loop","s":12,"x":800,"y":882},{"p":"f","k":"loop","s":12,"x":755,"y":882},{"p":"f","k":"loop","s":12,"x":755,"y":888},{"p":"f","k":"loop","s":12,"x":800,"y":888},{"p":"f","k":"loop","s":12,"x":800,"y":894},{"p":"f","k":"loop","s":12,"x":755,"y":894},{"p":"f","k":"loop","s":12,"x":755,"y":900},{"p":"f","k":"loop","s":12,"x":800,"y":900},
{"p":"f","k":"path","s":3,"x":800,"y":900},{"p":"f","k":"path","s":3,"x":760,"y":902},{"p":"f","k":"path","s":3,"x":700,"y":902},{"p":"f","k":"path","s":3,"x":650,"y":903},{"p":"f","k":"path","s":3,"x":642,"y":900},{"p":"f","k":"path","s":3,"x":636,"y":906},{"p":"f","k":"path","s":3,"x":628,"y":899},{"p":"f","k":"path","s":3,"x":620,"y":905},{"p":"f","k":"path","s":3,"x":610,"y":904},{"p":"f","k":"path","s":3,"x":600,"y":905},{"p":"f","k":"path","s":3,"x":585,"y":909},
{"p":"f","k":"loop","s":13,"x":585,"y":909},{"p":"f","k":"loop","s":13,"x":628,"y":909},{"p":"f","k":"loop","s":13,"x":628,"y":915},{"p":"f","k":"loop","s":13,"x":585,"y":915},{"p":"f","k":"loop","s":13,"x":585,"y":921},{"p":"f","k":"loop","s":13,"x":628,"y":921},{"p":"f","k":"loop","s":13,"x":628,"y":927},{"p":"f","k":"loop","s":13,"x":585,"y":927},{"p":"f","k":"loop","s":13,"x":585,"y":933},{"p":"f","k":"loop","s":13,"x":628,"y":933},{"p":"f","k":"loop","s":13,"x":628,"y":939},{"p":"f","k":"loop","s":13,"x":585,"y":939},{"p":"f","k":"loop","s":13,"x":585,"y":945},{"p":"f","k":"loop","s":13,"x":628,"y":945},{"p":"f","k":"loop","s":13,"x":628,"y":951},{"p":"f","k":"loop","s":13,"x":585,"y":951},
{"p":"f","k":"path","s":4,"x":585,"y":951},{"p":"f","k":"path","s":4,"x":588,"y":960},{"p":"f","k":"path","s":4,"x":680,"y":962},
{"p":"f","k":"red","x":603,"y":905,"v":8},{"p":"f","k":"red","x":607,"y":903,"v":10},{"p":"f","k":"red","x":612,"y":906,"v":8},{"p":"f","k":"red","x":626,"y":902,"v":6},
{"p":"f","k":"pd","x":528,"y":758,"v":4},{"p":"f","k":"pd","x":532,"y":758,"v":6},{"p":"f","k":"pd","x":536,"y":758,"v":9},{"p":"f","k":"pd","x":540,"y":758,"v":12},{"p":"f","k":"pd","x":544,"y":758,"v":14},{"p":"f","k":"pd","x":548,"y":758,"v":16},{"p":"f","k":"pd","x":552,"y":758,"v":15},{"p":"f","k":"pd","x":556,"y":758,"v":13},{"p":"f","k":"pd","x":560,"y":758,"v":10},{"p":"f","k":"pd","x":564,"y":758,"v":8},{"p":"f","k":"pd","x":568,"y":758,"v":6},{"p":"f","k":"pd","x":572,"y":758,"v":4},
{"p":"f","k":"pe","x":582,"y":758,"v":10},{"p":"f","k":"pe","x":593,"y":758,"v":10},{"p":"f","k":"pe","x":605,"y":758,"v":10},{"p":"f","k":"pe","x":617,"y":758,"v":10},{"p":"f","k":"pe","x":628,"y":758,"v":10},{"p":"f","k":"pe","x":640,"y":758,"v":10},{"p":"f","k":"pe","x":652,"y":758,"v":8},{"p":"f","k":"pd","x":668,"y":758,"v":5},
{"p":"f","k":"pd","x":740,"y":820,"v":8},{"p":"f","k":"pd","x":752,"y":820,"v":8},{"p":"f","k":"pd","x":765,"y":820,"v":8},{"p":"f","k":"pd","x":776,"y":820,"v":8},
{"p":"f","k":"pe","x":683,"y":962,"v":10}
]},
"spacing": 0,
"resolve": {"scale": {"x": "independent", "y": "independent", "size": "independent"}},
"vconcat": [
{"hconcat": [
{"width": 442, "height": 342, "transform": [{"filter": "datum.p == 'a'"}],
 "encoding": {"x": {"field": "x", "type": "quantitative", "axis": null, "scale": {"domain": [2, 444], "nice": false, "zero": false}}, "y": {"field": "y", "type": "quantitative", "axis": null, "scale": {"domain": [3, 345], "nice": false, "zero": false, "reverse": true}}},
 "layer": [
  {"transform": [{"filter": "datum.k == 'path'"}], "mark": {"type": "line", "color": "#6a6a6a", "strokeWidth": 1.2}, "encoding": {"detail": {"field": "s"}, "order": {"value": null}}},
  {"transform": [{"filter": "datum.k == 'red'"}], "mark": {"type": "point", "shape": "M0,-1C0.7,-1 0.7,1 0,1C-0.7,1 -0.7,-1 0,-1Z", "filled": false, "color": "#ec4434", "strokeWidth": 1, "opacity": 1}, "encoding": {"size": {"field": "v", "type": "quantitative", "scale": {"type": "pow", "exponent": 2, "domain": [0, 20], "range": [0, 400]}, "legend": null}}},
  {"transform": [{"filter": "datum.k == 'pe'"}], "mark": {"type": "point", "shape": "M0,-1C0.7,-1 0.7,1 0,1C-0.7,1 -0.7,-1 0,-1Z", "filled": false, "color": "#c04ac8", "strokeWidth": 1, "opacity": 1}, "encoding": {"size": {"field": "v", "type": "quantitative", "scale": {"type": "pow", "exponent": 2, "domain": [0, 20], "range": [0, 400]}, "legend": null}}},
  {"transform": [{"filter": "datum.k == 'lab'"}], "mark": {"type": "text", "color": "#7ed87e", "fontSize": 4.2, "font": "Liberation Sans", "align": "left", "baseline": "middle"}, "encoding": {"text": {"field": "t"}}},
  {"transform": [{"filter": "datum.k == 'letter'"}], "mark": {"type": "text", "color": "#1a1a1a", "fontSize": 40, "font": "Liberation Sans", "align": "center", "baseline": "alphabetic"}, "encoding": {"text": {"field": "t"}}},
  {"transform": [{"filter": "datum.k == 'border'"}], "mark": {"type": "rule", "color": "#222222", "clip": true}, "encoding": {"x2": {"field": "x2"}, "y2": {"field": "y2"}, "strokeWidth": {"field": "w", "type": "nominal", "scale": {"domain": ["thin", "thick"], "range": [3, 5]}, "legend": null}}}
 ]},
{"width": 435, "height": 342, "transform": [{"filter": "datum.p == 'b'"}],
 "encoding": {"x": {"field": "x", "type": "quantitative", "axis": null, "scale": {"domain": [444, 879], "nice": false, "zero": false}}, "y": {"field": "y", "type": "quantitative", "axis": null, "scale": {"domain": [3, 345], "nice": false, "zero": false, "reverse": true}}},
 "layer": [
  {"transform": [{"filter": "datum.k == 'stripe'"}], "mark": {"type": "rule", "color": "#444444", "strokeWidth": 1.4}, "encoding": {"x2": {"field": "x2"}}},
  {"transform": [{"filter": "datum.k == 'band'"}], "mark": {"type": "line", "color": "#555555", "strokeWidth": 4}, "encoding": {"detail": {"field": "s"}, "order": {"value": null}}},
  {"transform": [{"filter": "datum.k == 'path'"}], "mark": {"type": "line", "color": "#6a6a6a", "strokeWidth": 1.2}, "encoding": {"detail": {"field": "s"}, "order": {"value": null}}},
  {"transform": [{"filter": "datum.k == 'red'"}], "mark": {"type": "point", "shape": "M0,-1C0.7,-1 0.7,1 0,1C-0.7,1 -0.7,-1 0,-1Z", "filled": false, "color": "#ec4434", "strokeWidth": 1, "opacity": 1}, "encoding": {"size": {"field": "v", "type": "quantitative", "scale": {"type": "pow", "exponent": 2, "domain": [0, 20], "range": [0, 400]}, "legend": null}}},
  {"transform": [{"filter": "datum.k == 'pe'"}], "mark": {"type": "point", "shape": "M0,-1C0.7,-1 0.7,1 0,1C-0.7,1 -0.7,-1 0,-1Z", "filled": false, "color": "#c04ac8", "strokeWidth": 1, "opacity": 1}, "encoding": {"size": {"field": "v", "type": "quantitative", "scale": {"type": "pow", "exponent": 2, "domain": [0, 20], "range": [0, 400]}, "legend": null}}},
  {"transform": [{"filter": "datum.k == 'lab'"}], "mark": {"type": "text", "color": "#7ed87e", "fontSize": 4.2, "font": "Liberation Sans", "align": "left", "baseline": "middle"}, "encoding": {"text": {"field": "t"}}},
  {"transform": [{"filter": "datum.k == 'letter'"}], "mark": {"type": "text", "color": "#1a1a1a", "fontSize": 40, "font": "Liberation Sans", "align": "center", "baseline": "alphabetic"}, "encoding": {"text": {"field": "t"}}},
  {"transform": [{"filter": "datum.k == 'border'"}], "mark": {"type": "rule", "color": "#222222", "clip": true}, "encoding": {"x2": {"field": "x2"}, "y2": {"field": "y2"}, "strokeWidth": {"field": "w", "type": "nominal", "scale": {"domain": ["thin", "thick"], "range": [3, 5]}, "legend": null}}}
 ]}
], "spacing": 0, "resolve": {"scale": {"x": "independent", "y": "independent"}}},
{"hconcat": [
{"width": 442, "height": 338, "transform": [{"filter": "datum.p == 'c'"}],
 "encoding": {"x": {"field": "x", "type": "quantitative", "axis": null, "scale": {"domain": [2, 444], "nice": false, "zero": false}}, "y": {"field": "y", "type": "quantitative", "axis": null, "scale": {"domain": [345, 683], "nice": false, "zero": false, "reverse": true}}},
 "layer": [
  {"transform": [{"filter": "datum.k == 'stripe'"}], "mark": {"type": "rule", "color": "#444444", "strokeWidth": 1.4}, "encoding": {"x2": {"field": "x2"}}},
  {"transform": [{"filter": "datum.k == 'path'"}], "mark": {"type": "line", "color": "#6a6a6a", "strokeWidth": 1.2}, "encoding": {"detail": {"field": "s"}, "order": {"value": null}}},
  {"transform": [{"filter": "datum.k == 'redline'"}], "mark": {"type": "rule", "color": "#ec4434", "strokeWidth": 1.6, "strokeDash": [5, 2]}, "encoding": {"y2": {"field": "y2"}}},
  {"transform": [{"filter": "datum.k == 'red'"}], "mark": {"type": "point", "shape": "M0,-1C0.7,-1 0.7,1 0,1C-0.7,1 -0.7,-1 0,-1Z", "filled": false, "color": "#ec4434", "strokeWidth": 1, "opacity": 1}, "encoding": {"size": {"field": "v", "type": "quantitative", "scale": {"type": "pow", "exponent": 2, "domain": [0, 20], "range": [0, 400]}, "legend": null}}},
  {"transform": [{"filter": "datum.k == 'pd'"}], "mark": {"type": "point", "shape": "M0,-1L0.45,0L0,1L-0.45,0Z", "filled": false, "color": "#c04ac8", "strokeWidth": 0.9, "opacity": 1}, "encoding": {"size": {"field": "v", "type": "quantitative", "scale": {"type": "pow", "exponent": 2, "domain": [0, 20], "range": [0, 400]}, "legend": null}}},
  {"transform": [{"filter": "datum.k == 'pe'"}], "mark": {"type": "point", "shape": "M0,-1C0.7,-1 0.7,1 0,1C-0.7,1 -0.7,-1 0,-1Z", "filled": false, "color": "#c04ac8", "strokeWidth": 1, "opacity": 1}, "encoding": {"size": {"field": "v", "type": "quantitative", "scale": {"type": "pow", "exponent": 2, "domain": [0, 20], "range": [0, 400]}, "legend": null}}},
  {"transform": [{"filter": "datum.k == 'lab'"}], "mark": {"type": "text", "color": "#7ed87e", "fontSize": 4.2, "font": "Liberation Sans", "align": "left", "baseline": "middle"}, "encoding": {"text": {"field": "t"}}},
  {"transform": [{"filter": "datum.k == 'letter'"}], "mark": {"type": "text", "color": "#1a1a1a", "fontSize": 40, "font": "Liberation Sans", "align": "center", "baseline": "alphabetic"}, "encoding": {"text": {"field": "t"}}},
  {"transform": [{"filter": "datum.k == 'border'"}], "mark": {"type": "rule", "color": "#222222", "clip": true}, "encoding": {"x2": {"field": "x2"}, "y2": {"field": "y2"}, "strokeWidth": {"field": "w", "type": "nominal", "scale": {"domain": ["thin", "thick"], "range": [3, 5]}, "legend": null}}}
 ]},
{"width": 435, "height": 338, "transform": [{"filter": "datum.p == 'd'"}],
 "encoding": {"x": {"field": "x", "type": "quantitative", "axis": null, "scale": {"domain": [444, 879], "nice": false, "zero": false}}, "y": {"field": "y", "type": "quantitative", "axis": null, "scale": {"domain": [345, 683], "nice": false, "zero": false, "reverse": true}}},
 "layer": [
  {"transform": [{"filter": "datum.k == 'path'"}], "mark": {"type": "line", "color": "#6a6a6a", "strokeWidth": 1.2}, "encoding": {"detail": {"field": "s"}, "order": {"value": null}}},
  {"transform": [{"filter": "datum.k == 'loop'"}], "mark": {"type": "line", "color": "#6a6a6a", "strokeWidth": 1.2, "interpolate": "basis"}, "encoding": {"detail": {"field": "s"}, "order": {"value": null}}},
  {"transform": [{"filter": "datum.k == 'red'"}], "mark": {"type": "point", "shape": "M0,-1C0.7,-1 0.7,1 0,1C-0.7,1 -0.7,-1 0,-1Z", "filled": false, "color": "#ec4434", "strokeWidth": 1, "opacity": 1}, "encoding": {"size": {"field": "v", "type": "quantitative", "scale": {"type": "pow", "exponent": 2, "domain": [0, 20], "range": [0, 400]}, "legend": null}}},
  {"transform": [{"filter": "datum.k == 'pd'"}], "mark": {"type": "point", "shape": "M0,-1L0.45,0L0,1L-0.45,0Z", "filled": false, "color": "#c04ac8", "strokeWidth": 0.9, "opacity": 1}, "encoding": {"size": {"field": "v", "type": "quantitative", "scale": {"type": "pow", "exponent": 2, "domain": [0, 20], "range": [0, 400]}, "legend": null}}},
  {"transform": [{"filter": "datum.k == 'pe'"}], "mark": {"type": "point", "shape": "M0,-1C0.7,-1 0.7,1 0,1C-0.7,1 -0.7,-1 0,-1Z", "filled": false, "color": "#c04ac8", "strokeWidth": 1, "opacity": 1}, "encoding": {"size": {"field": "v", "type": "quantitative", "scale": {"type": "pow", "exponent": 2, "domain": [0, 20], "range": [0, 400]}, "legend": null}}},
  {"transform": [{"filter": "datum.k == 'lab'"}], "mark": {"type": "text", "color": "#7ed87e", "fontSize": 4.2, "font": "Liberation Sans", "align": "left", "baseline": "middle"}, "encoding": {"text": {"field": "t"}}},
  {"transform": [{"filter": "datum.k == 'letter'"}], "mark": {"type": "text", "color": "#1a1a1a", "fontSize": 40, "font": "Liberation Sans", "align": "center", "baseline": "alphabetic"}, "encoding": {"text": {"field": "t"}}},
  {"transform": [{"filter": "datum.k == 'border'"}], "mark": {"type": "rule", "color": "#222222", "clip": true}, "encoding": {"x2": {"field": "x2"}, "y2": {"field": "y2"}, "strokeWidth": {"field": "w", "type": "nominal", "scale": {"domain": ["thin", "thick"], "range": [3, 5]}, "legend": null}}}
 ]}
], "spacing": 0, "resolve": {"scale": {"x": "independent", "y": "independent"}}},
{"hconcat": [
{"width": 442, "height": 337, "transform": [{"filter": "datum.p == 'e'"}],
 "encoding": {"x": {"field": "x", "type": "quantitative", "axis": null, "scale": {"domain": [2, 444], "nice": false, "zero": false}}, "y": {"field": "y", "type": "quantitative", "axis": null, "scale": {"domain": [683, 1020], "nice": false, "zero": false, "reverse": true}}},
 "layer": [
  {"transform": [{"filter": "datum.k == 'path'"}], "mark": {"type": "line", "color": "#6a6a6a", "strokeWidth": 1.2}, "encoding": {"detail": {"field": "s"}, "order": {"value": null}}},
  {"transform": [{"filter": "datum.k == 'loop'"}], "mark": {"type": "line", "color": "#6a6a6a", "strokeWidth": 1.2, "interpolate": "basis"}, "encoding": {"detail": {"field": "s"}, "order": {"value": null}}},
  {"transform": [{"filter": "datum.k == 'red'"}], "mark": {"type": "point", "shape": "M0,-1C0.7,-1 0.7,1 0,1C-0.7,1 -0.7,-1 0,-1Z", "filled": false, "color": "#ec4434", "strokeWidth": 1, "opacity": 1}, "encoding": {"size": {"field": "v", "type": "quantitative", "scale": {"type": "pow", "exponent": 2, "domain": [0, 20], "range": [0, 400]}, "legend": null}}},
  {"transform": [{"filter": "datum.k == 'pd'"}], "mark": {"type": "point", "shape": "M0,-1L0.45,0L0,1L-0.45,0Z", "filled": false, "color": "#c04ac8", "strokeWidth": 0.9, "opacity": 1}, "encoding": {"size": {"field": "v", "type": "quantitative", "scale": {"type": "pow", "exponent": 2, "domain": [0, 20], "range": [0, 400]}, "legend": null}}},
  {"transform": [{"filter": "datum.k == 'pe'"}], "mark": {"type": "point", "shape": "M0,-1C0.7,-1 0.7,1 0,1C-0.7,1 -0.7,-1 0,-1Z", "filled": false, "color": "#c04ac8", "strokeWidth": 1, "opacity": 1}, "encoding": {"size": {"field": "v", "type": "quantitative", "scale": {"type": "pow", "exponent": 2, "domain": [0, 20], "range": [0, 400]}, "legend": null}}},
  {"transform": [{"filter": "datum.k == 'lab'"}], "mark": {"type": "text", "color": "#7ed87e", "fontSize": 4.2, "font": "Liberation Sans", "align": "left", "baseline": "middle"}, "encoding": {"text": {"field": "t"}}},
  {"transform": [{"filter": "datum.k == 'letter'"}], "mark": {"type": "text", "color": "#1a1a1a", "fontSize": 40, "font": "Liberation Sans", "align": "center", "baseline": "alphabetic"}, "encoding": {"text": {"field": "t"}}},
  {"transform": [{"filter": "datum.k == 'border'"}], "mark": {"type": "rule", "color": "#222222", "clip": true}, "encoding": {"x2": {"field": "x2"}, "y2": {"field": "y2"}, "strokeWidth": {"field": "w", "type": "nominal", "scale": {"domain": ["thin", "thick"], "range": [3, 5]}, "legend": null}}}
 ]},
{"width": 435, "height": 337, "transform": [{"filter": "datum.p == 'f'"}],
 "encoding": {"x": {"field": "x", "type": "quantitative", "axis": null, "scale": {"domain": [444, 879], "nice": false, "zero": false}}, "y": {"field": "y", "type": "quantitative", "axis": null, "scale": {"domain": [683, 1020], "nice": false, "zero": false, "reverse": true}}},
 "layer": [
  {"transform": [{"filter": "datum.k == 'path'"}], "mark": {"type": "line", "color": "#6a6a6a", "strokeWidth": 1.2}, "encoding": {"detail": {"field": "s"}, "order": {"value": null}}},
  {"transform": [{"filter": "datum.k == 'loop'"}], "mark": {"type": "line", "color": "#6a6a6a", "strokeWidth": 1.2, "interpolate": "basis"}, "encoding": {"detail": {"field": "s"}, "order": {"value": null}}},
  {"transform": [{"filter": "datum.k == 'red'"}], "mark": {"type": "point", "shape": "M0,-1C0.7,-1 0.7,1 0,1C-0.7,1 -0.7,-1 0,-1Z", "filled": false, "color": "#ec4434", "strokeWidth": 1, "opacity": 1}, "encoding": {"size": {"field": "v", "type": "quantitative", "scale": {"type": "pow", "exponent": 2, "domain": [0, 20], "range": [0, 400]}, "legend": null}}},
  {"transform": [{"filter": "datum.k == 'pd'"}], "mark": {"type": "point", "shape": "M0,-1L0.45,0L0,1L-0.45,0Z", "filled": false, "color": "#c04ac8", "strokeWidth": 0.9, "opacity": 1}, "encoding": {"size": {"field": "v", "type": "quantitative", "scale": {"type": "pow", "exponent": 2, "domain": [0, 20], "range": [0, 400]}, "legend": null}}},
  {"transform": [{"filter": "datum.k == 'pe'"}], "mark": {"type": "point", "shape": "M0,-1C0.7,-1 0.7,1 0,1C-0.7,1 -0.7,-1 0,-1Z", "filled": false, "color": "#c04ac8", "strokeWidth": 1, "opacity": 1}, "encoding": {"size": {"field": "v", "type": "quantitative", "scale": {"type": "pow", "exponent": 2, "domain": [0, 20], "range": [0, 400]}, "legend": null}}},
  {"transform": [{"filter": "datum.k == 'lab'"}], "mark": {"type": "text", "color": "#7ed87e", "fontSize": 4.2, "font": "Liberation Sans", "align": "left", "baseline": "middle"}, "encoding": {"text": {"field": "t"}}},
  {"transform": [{"filter": "datum.k == 'letter'"}], "mark": {"type": "text", "color": "#1a1a1a", "fontSize": 40, "font": "Liberation Sans", "align": "center", "baseline": "alphabetic"}, "encoding": {"text": {"field": "t"}}},
  {"transform": [{"filter": "datum.k == 'border'"}], "mark": {"type": "rule", "color": "#222222", "clip": true}, "encoding": {"x2": {"field": "x2"}, "y2": {"field": "y2"}, "strokeWidth": {"field": "w", "type": "nominal", "scale": {"domain": ["thin", "thick"], "range": [3, 5]}, "legend": null}}}
 ]}
], "spacing": 0, "resolve": {"scale": {"x": "independent", "y": "independent"}}}
]
}
